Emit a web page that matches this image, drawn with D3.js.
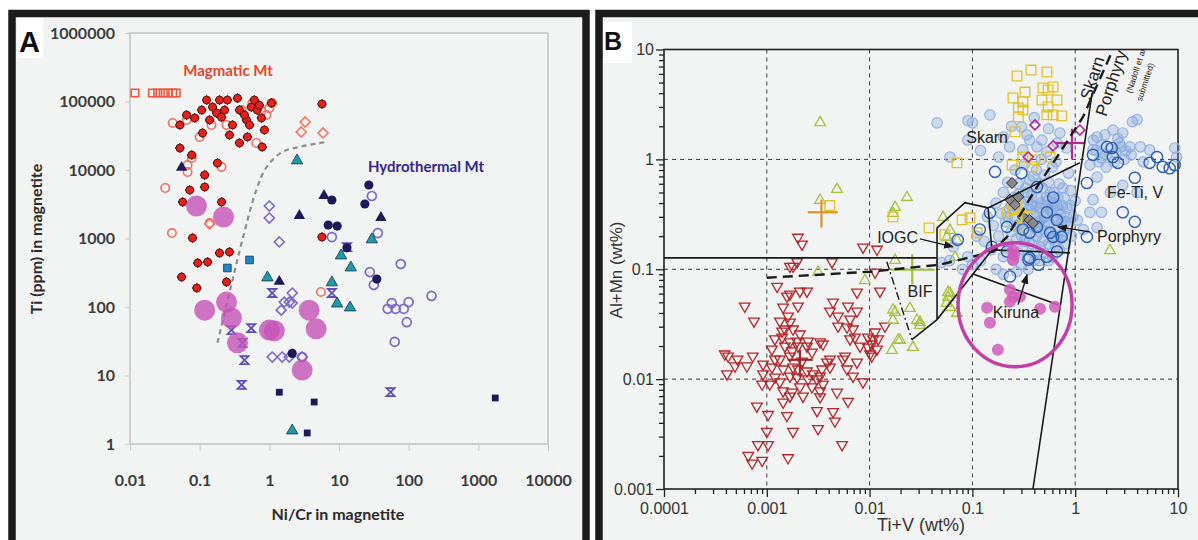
<!DOCTYPE html>
<html>
<head>
<meta charset="utf-8">
<script src="https://cdn.jsdelivr.net/npm/d3@7"></script>
<style>
  body { margin: 0; background: #fff; }
  svg { display: block; }
</style>
</head>
<body>
<script>
// ---------- Panel A : Ni/Cr vs Ti (ppm) ----------
var aTicksX = [0.01, 0.1, 1, 10, 100, 1000, 10000];
var aTicksXLabels = ["0.01", "0.1", "1", "10", "100", "1000", "10000"];
var aTicksY = [1, 10, 100, 1000, 10000, 100000, 1000000];
var aTicksYLabels = ["1", "10", "100", "1000", "10000", "100000", "1000000"];

var magFilled = [[0.052,45400],[0.065,63500],[0.085,57500],[0.107,75000],[0.126,105000],[0.153,83000],[0.175,68000],[0.193,105000],[0.206,59000],[0.268,32400],[0.296,45400],[0.349,112000],[0.373,75000],[0.47,53700],[0.485,30300],[0.55,83000],[0.61,105000],[0.67,75000],[0.77,57500],[0.79,21700],[0.85,38400],[1.07,95000],[0.373,24800],[0.11,34700],[0.052,20900],[0.077,16500],[0.18,12600],[0.118,8460],[0.072,5100],[0.118,5650],[0.057,3410],[0.206,3410],[0.079,1020],[0.055,274],[0.091,189],[0.094,439],[0.13,454],[0.193,614],[0.268,635],[0.243,232],[5.7,92000],[0.228,75000],[0.44,63500],[0.139,53700],[0.52,45400],[0.25,105000],[0.72,88000],[5.7,1050]];
var magOpenCircle = [[0.041,48600],[0.065,53700],[0.10,30300],[0.148,45400],[0.243,45400],[0.40,75000],[0.57,95000],[0.65,24800],[0.91,63500],[1.1,95000],[0.077,15000],[0.067,11800],[0.067,9350],[0.206,11100],[0.032,5460],[0.040,1200],[0.139,1680],[5.5,166],[1.0,80000],[0.77,72000]];
var magOpenSquare = [[0.0118,133000],[0.021,133000],[0.025,133000],[0.030,133000],[0.035,133000],[0.041,133000],[0.046,133000]];
var magOpenDiamond = [[2.87,35900],[3.27,50200],[5.9,34700],[0.139,1630]];
var navyTri = [[0.055,11100],[2.7,2200],[6.1,4310],[1.39,240],[40,2060]];
var navyCircle = [[26.8,6040],[23.5,3190],[7.9,3650],[7.0,1570],[9.4,1520],[34.9,256],[13,730],[2.13,21]];
var purpleCircle = [[29.6,4170],[36,1200],[7.9,1050],[77,424],[27.7,324],[31.6,210],[213,145],[50,94],[57,114],[65,94],[85,94],[100,118],[94,60],[63,31],[2.96,18.6]];
var purpleDiamond = [[1.0,2980],[1.0,1990],[1.39,890],[1.64,118],[2.13,160],[1.93,118],[1.48,90],[1.1,18.6],[1.53,18.6],[1.93,18.6],[2.96,18.6],[2.13,114]];
var tealTri = [[2.5,14000],[0.94,274],[10.7,574],[14.8,383],[7.9,232],[9.4,114],[14.4,100],[29.6,985],[2.13,1.6]];
var tealSquare = [[0.52,486],[0.25,371]];
var navySquare = [[1.39,5.7],[4.4,4.1],[2.13,21],[3.5,1.45],[1750,4.7]];
var purpleX = [[1.1,160],[0.55,49],[0.286,46],[0.41,30],[0.44,16.8],[0.40,7.3],[13,750],[7.9,160],[55,5.7]];
var kirunaA = [[0.09,2980],[0.22,2060],[0.118,90],[0.243,118],[0.286,69],[0.349,30],[1.0,46],[1.18,45],[3.73,90],[4.7,48],[2.96,12]];
var dividerA = [[0.18,30],[0.296,248],[0.41,950],[0.65,5100],[0.91,11000],[1.53,18300],[2.7,21700],[6.4,25600]];

// ---------- Panel B : Ti+V vs Al+Mn (wt%) ----------
var bTicksX = [0.0001, 0.001, 0.01, 0.1, 1, 10];
var bTicksXLabels = ["0.0001", "0.001", "0.01", "0.1", "1", "10"];
var bTicksY = [0.001, 0.01, 0.1, 1, 10];
var bTicksYLabels = ["0.001", "0.01", "0.1", "1", "10"];

var redTri = [[0.00061,0.0456],[0.00075,0.0333],[0.00039,0.0167],[0.00042,0.016],[0.00052,0.015],[0.00073,0.016],[0.00049,0.013],[0.00064,0.013],[0.00041,0.011],[0.00092,0.0135],[0.00092,0.011],[0.0009,0.0089],[0.00107,0.0089],[0.00103,0.0047],[0.0008,0.0056],[0.00082,0.0025],[0.00103,0.0025],[0.00066,0.002],[0.00072,0.0017],[0.0009,0.0018],[0.001,0.0033],[0.00161,0.0019],[0.0018,0.0033],[0.00157,0.0046],[0.00144,0.0061],[0.00126,0.069],[0.00157,0.0562],[0.00168,0.0586],[0.0021,0.0624],[0.00246,0.0624],[0.00201,0.0456],[0.00144,0.0447],[0.00168,0.0326],[0.0015,0.0282],[0.00141,0.0238],[0.0018,0.0282],[0.0021,0.0254],[0.00252,0.0219],[0.00201,0.0197],[0.00168,0.0215],[0.0015,0.0197],[0.00176,0.0178],[0.00246,0.0197],[0.0033,0.0215],[0.00352,0.0206],[0.00275,0.0174],[0.0022,0.0144],[0.00201,0.0122],[0.0018,0.0127],[0.00144,0.0122],[0.00168,0.0105],[0.00197,0.0103],[0.00246,0.0117],[0.00281,0.011],[0.00308,0.0099],[0.0033,0.0105],[0.00344,0.0122],[0.00385,0.0141],[0.00412,0.0127],[0.00352,0.0089],[0.0033,0.0077],[0.00275,0.0084],[0.00252,0.0099],[0.0021,0.0084],[0.00225,0.0069],[0.00176,0.0075],[0.00144,0.0077],[0.00168,0.0069],[0.00134,0.0093],[0.0012,0.0103],[0.00112,0.0127],[0.0012,0.015],[0.00134,0.015],[0.00168,0.016],[0.00112,0.0185],[0.0012,0.0229],[0.00141,0.027],[0.00134,0.0333],[0.00161,0.037],[0.00197,0.0219],[0.00308,0.0051],[0.0033,0.0068],[0.00441,0.005],[0.0046,0.0041],[0.00315,0.0035],[0.00441,0.0496],[0.00493,0.037],[0.00412,0.0411],[0.00493,0.030],[0.00617,0.0456],[0.00645,0.0347],[0.00754,0.0411],[0.00754,0.0611],[0.0069,0.0282],[0.00603,0.0294],[0.00721,0.0238],[0.00807,0.0197],[0.00645,0.0229],[0.00577,0.016],[0.00603,0.0122],[0.0069,0.0105],[0.00754,0.0141],[0.00863,0.0093],[0.00617,0.0062],[0.0054,0.0025],[0.00412,0.015],[0.00482,0.0075],[0.00551,0.015],[0.0105,0.0206],[0.00964,0.0193],[0.0108,0.0229],[0.0113,0.0265],[0.0101,0.0167],[0.0118,0.0185],[0.0105,0.016],[0.0121,0.0229],[0.00964,0.0238],[0.0141,0.030],[0.0126,0.0624],[0.0113,0.093],[0.00201,0.193],[0.0022,0.167],[0.0018,0.105],[0.00197,0.115],[0.00431,0.115],[0.00863,0.157],[0.0118,0.150],[0.00168,0.105]];
var greenTri = [[0.0033,2.19],[0.00482,0.54],[0.0033,0.43],[0.0177,0.37],[0.0231,0.456],[0.0169,0.327],[0.0177,0.122],[0.00315,0.095],[0.009,0.080],[0.0247,0.0447],[0.0289,0.0348],[0.0309,0.0313],[0.058,0.0624],[0.058,0.0562],[0.0678,0.13],[0.056,0.0496],[0.0169,0.0348],[0.0189,0.0229],[0.0165,0.0185],[0.0264,0.0197],[0.0518,0.30],[0.0605,0.229],[0.0564,0.197],[0.0708,0.185],[2.18,0.15],[0.0605,0.0611],[0.0605,0.0456],[0.0708,0.0403],[0.0177,0.0411],[0.0309,0.0333],[0.0198,0.0229],[0.0169,0.043]];
var yellowSq = [[0.272,5.74],[0.372,6.5],[0.532,6.24],[0.325,4.1],[0.248,3.62],[0.31,3.33],[0.486,4.47],[0.545,4.28],[0.61,4.56],[0.475,3.47],[0.665,3.47],[0.28,2.94],[0.31,2.82],[0.545,3.0],[0.53,2.54],[0.61,2.54],[0.74,2.49],[0.28,2.44],[0.26,1.78],[0.0708,0.93],[0.243,0.89],[0.31,1.05],[0.406,0.99],[0.38,0.855],[0.57,1.05],[0.0793,0.282],[0.0947,0.294],[0.054,0.206],[0.0379,0.238],[0.0169,0.30],[0.111,0.215],[0.28,0.243],[0.248,0.347],[0.217,0.33],[0.31,0.313],[0.0041,0.38]];
var lightBlue = [[0.0453,2.15],[0.0906,2.25],[0.1,2.15],[0.148,2.54],[0.30,1.97],[0.34,1.67],[0.36,1.5],[0.31,1.22],[0.475,1.5],[0.71,1.74],[0.665,1.41],[0.82,1.27],[0.425,1.3],[0.53,1.17],[1.63,1.6],[1.95,1.67],[2.33,1.85],[2.9,1.74],[3.6,2.2],[4.0,2.3],[2.7,1.41],[3.4,1.3],[4.3,1.3],[1.49,1.22],[1.8,1.03],[1.39,0.89],[4.6,0.95],[5.3,1.22],[9.3,1.27],[9.7,1.05],[1.63,0.69],[4.0,0.5],[1.49,0.43],[2.2,0.5],[1.8,0.33],[2.9,0.58],[1.39,0.33],[1.63,0.24],[1.2,0.23],[0.0605,1.05],
  [0.14,0.30],[0.16,0.25],[0.17,0.40],[0.18,0.20],[0.19,0.32],[0.2,0.5],[0.21,0.27],[0.22,0.17],[0.23,0.36],[0.24,0.22],[0.25,0.45],[0.26,0.3],[0.27,0.19],[0.28,0.6],[0.29,0.26],[0.3,0.4],[0.31,0.15],[0.32,0.33],[0.33,0.22],[0.34,0.5],[0.35,0.28],[0.36,0.18],[0.37,0.38],[0.38,0.25],[0.39,0.7],[0.4,0.32],[0.42,0.2],[0.43,0.45],[0.44,0.27],[0.45,0.36],[0.46,0.16],[0.48,0.55],[0.5,0.3],[0.52,0.22],[0.54,0.42],[0.56,0.26],[0.58,0.34],[0.6,0.19],[0.62,0.5],[0.64,0.28],[0.66,0.38],[0.68,0.24],[0.7,0.6],[0.72,0.32],[0.75,0.2],[0.78,0.45],[0.8,0.27],[0.83,0.36],[0.86,0.75],[0.9,0.52],[0.95,0.3],[1.0,0.42],[0.2,0.13],[0.25,0.12],[0.3,0.11],[0.35,0.13],[0.4,0.14],[0.45,0.12],[0.5,0.14],[0.6,0.13],[0.7,0.15],[0.15,0.15],[0.12,0.12],[0.1,0.11],[0.09,0.13],[0.08,0.1],[0.11,0.2],[0.13,0.18],[0.22,0.62],[0.26,0.8],[0.32,0.9],[0.36,0.65],[0.42,0.8],[0.5,0.72],[0.55,0.62],[0.6,0.85],[0.65,0.95],[0.47,1.0],[0.28,0.48],[0.33,0.55],[0.38,0.48],[0.44,0.6],[0.52,0.38],[0.57,0.5],[0.63,0.4],[0.75,0.38],[0.85,0.25],[0.92,0.2],[1.05,0.28],[0.17,0.1],[0.2,0.09],[0.27,0.095],[0.35,0.1],[0.06,0.12],[0.05,0.115],[0.065,0.16],
  [0.22,0.3],[0.24,0.38],[0.27,0.25],[0.3,0.2],[0.33,0.28],[0.36,0.35],[0.4,0.24],[0.42,0.3],[0.46,0.4],[0.5,0.25],[0.54,0.32],[0.58,0.22],[0.62,0.3],[0.66,0.2],[0.7,0.35],[0.74,0.27],[0.78,0.22],[0.82,0.3],[0.48,0.18],[0.55,0.17],[0.38,0.17],[0.3,0.27],[0.26,0.35],[0.44,0.22],[0.52,0.45],[0.6,0.4],[0.68,0.45],[0.35,0.42],[0.41,0.38],[0.47,0.28],[0.64,0.16],[0.72,0.19],[0.56,0.36],[0.32,0.18],[0.28,0.14],[0.4,0.12],[0.55,0.12],[0.8,0.17],[0.9,0.38],[0.76,0.55],
  [1.6,1.2],[1.8,1.35],[2.0,1.1],[2.2,1.25],[2.5,1.15],[2.8,1.3],[3.1,1.2],[2.4,0.95],[2.0,0.85],[1.7,0.95],[3.0,1.0],[3.5,1.1],[1.5,1.5],[2.6,1.55],
  [0.09,1.5],[0.12,1.2],[0.2,1.6],[0.24,2.0],[0.4,2.4],[0.55,1.9],[0.23,1.3],[0.18,1.05]];
var darkBlue = [[0.166,0.77],[0.30,0.75],[1.49,1.1],[2.04,1.3],[2.33,1.05],[2.6,0.93],[2.27,1.27],[3.8,0.68],[6.25,1.05],[7.1,0.855],[8.3,0.83],[9.3,0.89],[5.3,0.93],[2.9,0.33],[3.8,0.27],[1.3,0.197],[1.3,0.61],[0.61,0.45],[0.425,0.56],[0.53,0.33],[0.665,0.28],[0.57,0.215],[0.425,0.243],[0.36,0.215],[0.31,0.23],[0.217,0.243],[0.148,0.327],[0.118,0.23],[0.072,0.185],[0.155,0.16],[0.217,0.145],[0.36,0.127],[0.53,0.13],[0.665,0.145],[0.74,0.197],[0.232,0.086],[0.35,0.122],[0.44,0.11],[0.61,0.197]];
var magentaDiamond = [[0.406,2.06],[0.61,1.33],[0.35,1.05],[1.11,1.85]];
var greyDiamond = [[0.243,0.61],[0.232,0.43],[0.26,0.386],[0.31,0.30],[0.36,0.28],[0.388,0.263],[0.28,0.456]];
var kirunaB = [[0.248,0.15],[0.248,0.122],[0.254,0.135],[0.232,0.065],[0.248,0.0562],[0.29,0.0562],[0.232,0.0507],[0.139,0.0447],[0.148,0.0326],[0.455,0.0437],[0.635,0.0456],[0.177,0.0185]];
// mean +/- range crosses: [x, y, xlo, xhi, ylo, yhi]
var crossB = [[0.0034,0.33,0.0025,0.0049,0.24,0.43],[0.026,0.099,0.016,0.043,0.073,0.137],[0.0021,0.015,0.0016,0.0028,0.0105,0.0185],[0.93,1.41,0.65,1.25,1.0,1.9],[0.3,0.33,0.24,0.4,0.26,0.42]];
var crossColors = ["#d8932a", "#9cc040", "#a02828", "#b02a90", "#e0c848"];

// field boundaries
var boundSolid = [
  [[0.0001,0.127],[0.0453,0.127]],
  [[0.0453,0.0348],[0.0453,0.238],[0.0847,0.403],[0.142,0.362],[1.11,0.93]],
  [[0.142,0.362],[0.155,0.150],[0.0453,0.0348],[0.0258,0.0229]],
  [[0.155,0.150],[0.89,0.141]],
  [[0.1,0.091],[0.68,0.0475]],
  [[0.388,0.001],[1.46,4.0]]
];
var boundDashed = [[0.001,0.0837],[0.0101,0.095],[0.0484,0.11],[0.155,0.144],[0.217,0.197],[0.425,0.562],[0.665,1.05],[1.19,2.43],[2.33,10]];
var boundBIF = [[0.0147,0.117],[0.0258,0.0229]];
var arrowsB = [[[0.0309,0.189],[0.0647,0.160]],[[1.39,0.219],[0.68,0.243]],[[0.278,0.0475],[0.34,0.089]]];
var labelsB = [["Skarn",0.139,1.6],["Fe-Ti, V",3.82,0.496],["IOGC",0.0296,0.193],["BIF",0.0309,0.0624],["Kiruna",0.265,0.0403],["Porphyry",1.63,0.197]];
var labelsBRot = [["Skarn",1.46,5.5],["Porphyry",2.23,4.96],["(Nadoll et al.",3.9,6.5],["submitted)",4.78,5.07]];
var kirunaCentre = [0.26, 0.0475];

// ---------- helpers ----------
var shapes = {
  circle: function(r){ return "M"+r+",0A"+r+","+r+",0,1,1,"+(-r)+",0A"+r+","+r+",0,1,1,"+r+",0Z"; },
  square: function(r){ return "M"+(-r)+","+(-r)+"h"+2*r+"v"+2*r+"h"+(-2*r)+"Z"; },
  diamond: function(r){ return "M0,"+(-r)+"L"+r+",0L0,"+r+"L"+(-r)+",0Z"; },
  triUp: function(r){ return "M0,"+(-r)+"L"+(r*0.95)+","+(r*0.65)+"L"+(-r*0.95)+","+(r*0.65)+"Z"; },
  triDown: function(r){ return "M0,"+r+"L"+(r*0.95)+","+(-r*0.65)+"L"+(-r*0.95)+","+(-r*0.65)+"Z"; },
  bowtie: function(r){ return "M"+(-r)+","+(-r)+"L"+r+","+(-r)+"L"+(-r)+","+r+"L"+r+","+r+"Z"; }
};

function plot(g, data, x, y, shape, r, st) {
  g.append("g").selectAll("path").data(data).join("path")
    .attr("transform", function(d){ return "translate(" + x(d[0]) + "," + y(d[1]) + ")"; })
    .attr("d", shapes[shape](r))
    .attr("fill", st.fill || "none")
    .attr("stroke", st.stroke || "none")
    .attr("stroke-width", st.sw || 1)
    .attr("opacity", st.op || 1);
}

var svg = d3.select("body").append("svg").attr("width", 1198).attr("height", 540);
svg.append("rect").attr("width", 1198).attr("height", 540).attr("fill", "#fff");

// panel frames
svg.append("rect").attr("x", 12).attr("y", 13.5).attr("width", 574).attr("height", 540)
  .attr("fill", "#f2f3f3").attr("stroke", "#1c1c1c").attr("stroke-width", 7.5);
svg.append("rect").attr("x", 599).attr("y", 13.5).attr("width", 640).attr("height", 540)
  .attr("fill", "#f2f3f3").attr("stroke", "#1c1c1c").attr("stroke-width", 7.5);

// ================= PANEL A =================
var xA = d3.scaleLog().domain([0.01, 10000]).range([130, 548]);
var yA = d3.scaleLog().domain([1, 1000000]).range([444, 33]);
var gA = svg.append("g").attr("font-family", "Lato, 'Open Sans', sans-serif");

gA.append("rect").attr("x", 17).attr("y", 18).attr("width", 26).attr("height", 40).attr("fill", "#fff");
gA.append("text").attr("x", 19).attr("y", 52).attr("font-family", "'Liberation Sans', Arial, sans-serif")
  .attr("font-weight", "bold").attr("font-size", 29).attr("fill", "#111").text("A");

var axA = gA.append("g").attr("transform", "translate(0,444)")
  .call(d3.axisBottom(xA).tickValues(aTicksX).tickFormat(function(d, i){ return aTicksXLabels[i]; }).tickSize(7).tickPadding(24));
var ayA = gA.append("g").attr("transform", "translate(130,0)")
  .call(d3.axisLeft(yA).tickValues(aTicksY).tickFormat(function(d, i){ return aTicksYLabels[i]; }).tickSize(5).tickPadding(10));
[axA, ayA].forEach(function(ax){
  ax.select(".domain").remove();
  ax.selectAll(".tick line").attr("stroke", "#cfcfcf").attr("stroke-width", 1.2);
  ax.selectAll("text").attr("font-size", 16).attr("font-weight", "bold").attr("fill", "#3c3c3c")
    .attr("font-family", "Lato, sans-serif");
});
gA.append("rect").attr("x", 130).attr("y", 33).attr("width", 418).attr("height", 411)
  .attr("fill", "none").attr("stroke", "#c2c2c2").attr("stroke-width", 1.5);

gA.append("text").attr("x", 338).attr("y", 520).attr("text-anchor", "middle")
  .attr("font-size", 16).attr("font-weight", "bold").attr("fill", "#2a2a2a").text("Ni/Cr in magnetite");
gA.append("text").attr("transform", "translate(42,239) rotate(-90)").attr("text-anchor", "middle")
  .attr("font-size", 16).attr("font-weight", "bold").attr("fill", "#2a2a2a").text("Ti (ppm) in magnetite");

gA.append("text").attr("x", 228).attr("y", 76).attr("text-anchor", "middle")
  .attr("font-size", 15).attr("font-weight", "bold").attr("fill", "#e8452a").text("Magmatic Mt");
gA.append("text").attr("x", 426).attr("y", 172).attr("text-anchor", "middle")
  .attr("font-size", 15).attr("font-weight", "bold").attr("fill", "#33288a").text("Hydrothermal Mt");

gA.append("path").datum(dividerA)
  .attr("d", d3.line().x(function(d){ return xA(d[0]); }).y(function(d){ return yA(d[1]); }).curve(d3.curveCatmullRom))
  .attr("fill", "none").attr("stroke", "#8c8c8c").attr("stroke-width", 2.2).attr("stroke-dasharray", "5,4");

plot(gA, magOpenSquare, xA, yA, "square", 3.8, {stroke: "#f2543f", sw: 1.6});
plot(gA, magOpenCircle, xA, yA, "circle", 4.2, {stroke: "#f0705f", sw: 1.6});
plot(gA, magOpenDiamond, xA, yA, "diamond", 5, {stroke: "#f07563", sw: 1.6});
plot(gA, magFilled, xA, yA, "diamond", 5, {fill: "#2b1414"});
plot(gA, magFilled, xA, yA, "circle", 4, {fill: "#e3201b", stroke: "#3a1212", sw: 0.8});
plot(gA, purpleCircle, xA, yA, "circle", 4.5, {stroke: "#7d6ac6", sw: 1.7});
plot(gA, purpleDiamond, xA, yA, "diamond", 5, {stroke: "#7d6ac6", sw: 1.6});
plot(gA, purpleX, xA, yA, "bowtie", 4, {stroke: "#5e4fb8", sw: 1.8});
plot(gA, navyCircle, xA, yA, "circle", 4.6, {fill: "#1d1a5a"});
plot(gA, navyTri, xA, yA, "triUp", 6, {fill: "#1d1a5a"});
plot(gA, navySquare, xA, yA, "square", 3.4, {fill: "#1d1a5a"});
plot(gA, tealTri, xA, yA, "triUp", 6, {fill: "#1e9aa8", stroke: "#16324a", sw: 0.8});
plot(gA, tealSquare, xA, yA, "square", 3.8, {fill: "#2184c4", stroke: "#16324a", sw: 0.8});
plot(gA, kirunaA, xA, yA, "circle", 10.5, {fill: "#c453b8", op: 0.8});

// ================= PANEL B =================
var xB = d3.scaleLog().domain([0.0001, 10]).range([664, 1178]);
var yB = d3.scaleLog().domain([0.001, 10]).range([489, 49.5]);
var gB = svg.append("g").attr("font-family", "'Liberation Sans', Arial, sans-serif");

gB.append("rect").attr("x", 603).attr("y", 22).attr("width", 29).attr("height", 41).attr("fill", "#fff");
gB.append("text").attr("x", 604).attr("y", 50).attr("font-weight", "bold").attr("font-size", 25)
  .attr("fill", "#111").text("B");

// grid
gB.append("g").selectAll("line").data(bTicksX.slice(1, -1)).join("line")
  .attr("x1", function(d){ return xB(d); }).attr("x2", function(d){ return xB(d); })
  .attr("y1", yB(10)).attr("y2", yB(0.001))
  .attr("stroke", "#3a3a3a").attr("stroke-width", 1).attr("stroke-dasharray", "4,4");
gB.append("g").selectAll("line").data(bTicksY.slice(1, -1)).join("line")
  .attr("y1", function(d){ return yB(d); }).attr("y2", function(d){ return yB(d); })
  .attr("x1", xB(0.0001)).attr("x2", xB(10))
  .attr("stroke", "#3a3a3a").attr("stroke-width", 1).attr("stroke-dasharray", "4,4");

// minor ticks
var minorX = [], minorY = [];
bTicksX.slice(0, -1).forEach(function(d){ for (var k = 2; k < 10; k++) minorX.push(d * k); });
bTicksY.slice(0, -1).forEach(function(d){ for (var k = 2; k < 10; k++) minorY.push(d * k); });
var mx = gB.append("g").attr("transform", "translate(0,489)").call(d3.axisBottom(xB).tickValues(minorX).tickFormat("").tickSize(5));
var my = gB.append("g").attr("transform", "translate(664,0)").call(d3.axisLeft(yB).tickValues(minorY).tickFormat("").tickSize(5));
var axB = gB.append("g").attr("transform", "translate(0,489)")
  .call(d3.axisBottom(xB).tickValues(bTicksX).tickFormat(function(d, i){ return bTicksXLabels[i]; }).tickSize(8).tickPadding(6));
var ayB = gB.append("g").attr("transform", "translate(664,0)")
  .call(d3.axisLeft(yB).tickValues(bTicksY).tickFormat(function(d, i){ return bTicksYLabels[i]; }).tickSize(8).tickPadding(2));
[mx, my, axB, ayB].forEach(function(ax){
  ax.select(".domain").remove();
  ax.selectAll(".tick line").attr("stroke", "#222").attr("stroke-width", 1.3);
  ax.selectAll("text").attr("font-size", 16).attr("fill", "#333").attr("font-family", "'Liberation Sans', Arial, sans-serif");
});
gB.append("rect").attr("x", 664).attr("y", 49.5).attr("width", 514).attr("height", 439.5)
  .attr("fill", "none").attr("stroke", "#222").attr("stroke-width", 1.6);

gB.append("text").attr("x", 921).attr("y", 531).attr("text-anchor", "middle")
  .attr("font-size", 18).attr("fill", "#333").text("Ti+V (wt%)");
gB.append("text").attr("transform", "translate(622,270) rotate(-90)").attr("text-anchor", "middle")
  .attr("font-size", 17).attr("fill", "#333").text("Al+Mn (wt%)");

var lineB = d3.line().x(function(d){ return xB(d[0]); }).y(function(d){ return yB(d[1]); });

plot(gB, redTri, xB, yB, "triDown", 5.6, {stroke: "#b3262a", sw: 1.3});
plot(gB, greenTri, xB, yB, "triUp", 5.6, {stroke: "#a6c23a", sw: 1.3});
plot(gB, lightBlue, xB, yB, "circle", 5.2, {fill: "rgba(110,150,215,0.28)", stroke: "#93b2e4", sw: 1.2});
plot(gB, yellowSq, xB, yB, "square", 4.8, {stroke: "#e2c12c", sw: 1.3});
plot(gB, darkBlue, xB, yB, "circle", 5.6, {stroke: "#2a5db0", sw: 1.4});
plot(gB, magentaDiamond, xB, yB, "diamond", 5, {stroke: "#b02a90", sw: 1.6});
plot(gB, greyDiamond, xB, yB, "diamond", 5.5, {fill: "#8a8a8a", stroke: "#2a2a2a", sw: 1});

// mean crosses
crossB.forEach(function(c, i){
  var g = gB.append("g").attr("stroke", crossColors[i]).attr("stroke-width", 2.2);
  g.append("line").attr("x1", xB(c[2])).attr("x2", xB(c[3])).attr("y1", yB(c[1])).attr("y2", yB(c[1]));
  g.append("line").attr("x1", xB(c[0])).attr("x2", xB(c[0])).attr("y1", yB(c[4])).attr("y2", yB(c[5]));
});

// field boundaries
boundSolid.forEach(function(seg){
  gB.append("path").datum(seg).attr("d", lineB).attr("fill", "none").attr("stroke", "#1a1a1a").attr("stroke-width", 1.6);
});
gB.append("path").datum(boundDashed).attr("d", lineB).attr("fill", "none")
  .attr("stroke", "#1a1a1a").attr("stroke-width", 2.4).attr("stroke-dasharray", "10,6");
gB.append("path").datum(boundBIF).attr("d", lineB).attr("fill", "none")
  .attr("stroke", "#1a1a1a").attr("stroke-width", 1.4).attr("stroke-dasharray", "8,3,2,3");

// Kiruna
plot(gB, kirunaB, xB, yB, "circle", 6, {fill: "#d05cbc", op: 0.85});
gB.append("ellipse").attr("cx", xB(kirunaCentre[0])).attr("cy", yB(kirunaCentre[1]))
  .attr("rx", 57).attr("ry", 62).attr("fill", "none").attr("stroke", "#c23fa8").attr("stroke-width", 3.5);

// arrows
svg.append("defs").append("marker").attr("id", "ah").attr("viewBox", "0 0 10 10")
  .attr("refX", 9).attr("refY", 5).attr("markerWidth", 7).attr("markerHeight", 7).attr("orient", "auto")
  .append("path").attr("d", "M0,1L10,5L0,9Z").attr("fill", "#1a1a1a");
arrowsB.forEach(function(a){
  gB.append("path").datum(a).attr("d", lineB).attr("stroke", "#1a1a1a").attr("stroke-width", 1.4)
    .attr("fill", "none").attr("marker-end", "url(#ah)");
});

// labels
var anchors = {"IOGC": "end", "Porphyry": "start"};
gB.append("g").selectAll("text").data(labelsB).join("text")
  .attr("x", function(d){ return xB(d[1]); }).attr("y", function(d){ return yB(d[2]); })
  .attr("dy", "0.35em").attr("text-anchor", function(d){ return anchors[d[0]] || "middle"; })
  .attr("font-size", 16).attr("fill", "#222").text(function(d){ return d[0]; });
gB.append("g").selectAll("text").data(labelsBRot).join("text")
  .attr("transform", function(d){ return "translate(" + xB(d[1]) + "," + yB(d[2]) + ") rotate(-72)"; })
  .attr("text-anchor", "middle").attr("dy", "0.35em")
  .attr("font-size", function(d, i){ return i < 2 ? 17 : 8.5; })
  .attr("fill", "#222").text(function(d){ return d[0]; });
</script>
</body>
</html>
